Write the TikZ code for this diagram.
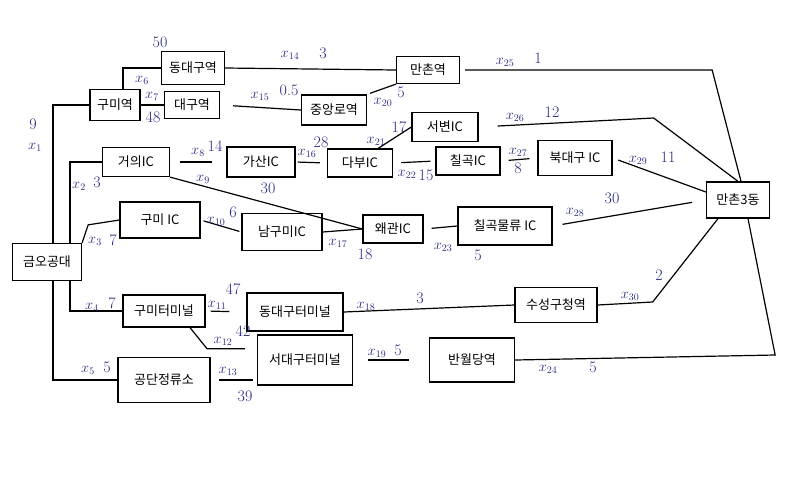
\documentclass[tikz,border=0pt]{standalone}
\usepackage{fontspec}
\newfontfamily\kfont{Noto Sans CJK KR}
\definecolor{pen}{RGB}{40,40,130}

\begin{document}
\begin{tikzpicture}[x=1pt, y=-1pt,
        box/.style={draw, line width=1.3pt, inner sep=0pt, font=\kfont\fontsize{13}{15}\selectfont},
        link/.style={line width=1.2pt},
        var/.style={text=pen, inner sep=1pt, font=\fontsize{14}{16}\selectfont},
        val/.style={text=pen, inner sep=1pt, font=\fontsize{16}{18}\selectfont}]
        \useasboundingbox (0,0) rectangle (792,499);

        % stations and interchanges
        \node[box, minimum width=69pt, minimum height=37pt] (gumoh) at (47,262) {금오공대};
        \node[box, minimum width=50pt, minimum height=31pt] (gumiSt) at (115,105) {구미역};
        \node[box, minimum width=63pt, minimum height=33pt] (dongdaeguSt) at (193,68) {동대구역};
        \node[box, minimum width=55pt, minimum height=27pt] (daeguSt) at (192,105) {대구역};
        \node[box, minimum width=65pt, minimum height=30pt] (jungangno) at (334,110) {중앙로역};
        \node[box, minimum width=63pt, minimum height=27pt] (manchonSt) at (428,70) {만촌역};
        \node[box, minimum width=66pt, minimum height=29pt] (seobyeon) at (445,127) {서변IC};
        \node[box, minimum width=64pt, minimum height=28pt] (chilgok) at (468,161) {칠곡IC};
        \node[box, minimum width=65pt, minimum height=28pt] (dabu) at (360,163) {다부IC};
        \node[box, minimum width=68pt, minimum height=30pt] (gasan) at (261,162) {가산IC};
        \node[box, minimum width=67pt, minimum height=29pt] (geoui) at (136,162) {거의IC};
        \node[box, minimum width=74pt, minimum height=35pt] (bukdaegu) at (575,158) {북대구 IC};
        \node[box, minimum width=63pt, minimum height=36pt] (manchon3) at (738,200) {만촌3동};
        \node[box, minimum width=80pt, minimum height=36pt] (gumiIC) at (160,220) {구미 IC};
        \node[box, minimum width=80pt, minimum height=37pt] (namgumi) at (282,232) {남구미IC};
        \node[box, minimum width=60pt, minimum height=28pt] (waegwan) at (393,229) {왜관IC};
        \node[box, minimum width=94pt, minimum height=38pt] (chilgokLog) at (505,226) {칠곡물류 IC};
        \node[box, minimum width=82pt, minimum height=32pt] (gumiTerm) at (164,311) {구미터미널};
        \node[box, minimum width=96pt, minimum height=38pt] (dongTerm) at (295,312) {동대구터미널};
        \node[box, minimum width=95pt, minimum height=50pt] (seoTerm) at (305,360) {서대구터미널};
        \node[box, minimum width=92pt, minimum height=45pt] (gongdan) at (164,380) {공단정류소};
        \node[box, minimum width=85pt, minimum height=44pt] (banwol) at (472,360) {반월당역};
        \node[box, minimum width=82pt, minimum height=35pt] (suseong) at (556,305) {수성구청역};

        % routes out of 금오공대
        \draw[link] ([xshift=6pt]gumoh.north) |- (gumiSt.west);
        \draw[link] ([xshift=23pt]gumoh.north) |- (geoui.west);
        \draw[link] (gumoh.north east) -- ++(6,-18) -- (gumiIC.west);
        \draw[link] ([xshift=23pt]gumoh.south) |- (gumiTerm.west);
        \draw[link] ([xshift=6pt]gumoh.south) |- (gongdan.west);

        % second leg
        \draw[link] ([xshift=8pt]gumiSt.north) |- (dongdaeguSt.west);
        \draw[link] (gumiSt.east) -- (daeguSt.west);
        \draw[link, shorten <=10pt, shorten >=14pt] (geoui.east) -- (gasan.west);
        \draw[link] (geoui.south east) -- (waegwan.west);
        \draw[link, shorten <=3pt, shorten >=2pt] (gumiIC.east) -- (namgumi.west);
        \draw[link, shorten <=5pt, shorten >=17pt] (gumiTerm.east) -- (dongTerm.west);
        \draw[link] ([xshift=26pt]gumiTerm.south) -- ++(17,21) coordinate (k12) -- ([xshift=-12pt]k12 -| seoTerm.west);
        \draw[link, shorten <=8pt, shorten >=4pt] (gongdan.east) -- (gongdan.east -| seoTerm.west);

        % third leg
        \draw[link] (dongdaeguSt.east) -- (manchonSt.west);
        \draw[link, shorten <=13pt] (daeguSt.east) -- (jungangno.west);
        \draw[link, shorten <=2pt, shorten >=7pt] (gasan.east) -- (dabu.west);
        \draw[link] (namgumi.east) -- (waegwan.west);
        \draw[link] (dongTerm.east) -- (suseong.west);
        \draw[link, shorten <=15pt, shorten >=20pt] (seoTerm.east) -- (banwol.west);
        \draw[link, shorten <=3pt] (jungangno.north east) -- (manchonSt.south west);
        \draw[link] ([xshift=-15pt]dabu.north east) -- (seobyeon.west);
        \draw[link, shorten <=8pt, shorten >=5pt] (dabu.east) -- (chilgok.west);
        \draw[link, shorten <=8pt] (waegwan.east) -- (chilgokLog.west);
        \draw[link, shorten <=8pt, shorten >=8pt] (chilgok.east) -- (bukdaegu.west);

        % into 만촌3동
        \draw[link] (banwol.east) -- ++(260,-5) -- ([xshift=10pt]manchon3.south);
        \draw[link, shorten <=5pt] (manchonSt.east) -- ++(252,0) -- ([xshift=3pt]manchon3.north);
        \draw[link, shorten <=19pt] (seobyeon.east) -- ++(175,-9) -- (manchon3.north);
        \draw[link, shorten <=10pt, shorten >=14pt] (chilgokLog.east) -- (manchon3.west);
        \draw[link, shorten <=6pt] (bukdaegu.east) -- ([yshift=8pt]manchon3.west);
        \draw[link] (suseong.east) -- ++(55,-3) -- ([xshift=-20pt]manchon3.south);

        % variables and costs
        \node[val] (v1) at (33,124) {9};
        \node[var] (x1) at (35,147) {$x_{1}$};
        \node[var] (x2) at (79,186) {$x_{2}$};
        \node[val] (v2) at (97,182) {3};
        \node[var] (x3) at (95,241) {$x_{3}$};
        \node[val] (v3) at (113,240) {7};
        \node[var] (x4) at (92,307) {$x_{4}$};
        \node[val] (v4) at (112,303) {7};
        \node[var] (x5) at (88,370) {$x_{5}$};
        \node[val] (v5) at (107,367) {5};
        \node[var] (x6) at (142,80) {$x_{6}$};
        \node[val] (v6) at (160,42) {50};
        \node[var] (x7) at (152,96) {$x_{7}$};
        \node[val] (v7) at (153,117) {48};
        \node[var] (x8) at (198,152) {$x_{8}$};
        \node[val] (v8) at (215,146) {14};
        \node[var] (x9) at (203,179) {$x_{9}$};
        \node[val] (v9) at (268,188) {30};
        \node[var] (x10) at (216,221) {$x_{10}$};
        \node[val] (v10) at (233,212) {6};
        \node[var] (x11) at (217,305) {$x_{11}$};
        \node[val] (v11) at (233,289) {47};
        \node[var] (x12) at (223,341) {$x_{12}$};
        \node[val] (v12) at (243,331) {42};
        \node[var] (x13) at (228,371) {$x_{13}$};
        \node[val] (v13) at (245,396) {39};
        \node[var] (x14) at (290,55) {$x_{14}$};
        \node[val] (v14) at (323,53) {3};
        \node[var] (x15) at (260,96) {$x_{15}$};
        \node[val] (v15) at (289,90) {0.5};
        \node[var] (x16) at (307,153) {$x_{16}$};
        \node[val] (v16) at (321,142) {28};
        \node[var] (x17) at (338,243) {$x_{17}$};
        \node[val] (v17) at (365,254) {18};
        \node[var] (x18) at (366,306) {$x_{18}$};
        \node[val] (v18) at (420,298) {3};
        \node[var] (x19) at (377,353) {$x_{19}$};
        \node[val] (v19) at (398,350) {5};
        \node[var] (x20) at (383,102) {$x_{20}$};
        \node[val] (v20) at (401,92) {5};
        \node[var] (x21) at (376,141) {$x_{21}$};
        \node[val] (v21) at (399,127) {17};
        \node[var] (x22) at (407,174) {$x_{22}$};
        \node[val] (v22) at (426,175) {15};
        \node[var] (x23) at (443,247) {$x_{23}$};
        \node[val] (v23) at (478,255) {5};
        \node[var] (x24) at (548,369) {$x_{24}$};
        \node[val] (v24) at (593,367) {5};
        \node[var] (x25) at (505,62) {$x_{25}$};
        \node[val] (v25) at (538,58) {1};
        \node[var] (x26) at (515,117) {$x_{26}$};
        \node[val] (v26) at (552,112) {12};
        \node[var] (x27) at (518,152) {$x_{27}$};
        \node[val] (v27) at (518,168) {8};
        \node[var] (x28) at (575,212) {$x_{28}$};
        \node[val] (v28) at (612,198) {30};
        \node[var] (x29) at (638,160) {$x_{29}$};
        \node[val] (v29) at (668,157) {11};
        \node[var] (x30) at (630,296) {$x_{30}$};
        \node[val] (v30) at (659,275) {2};

    \end{tikzpicture}
\end{document}
